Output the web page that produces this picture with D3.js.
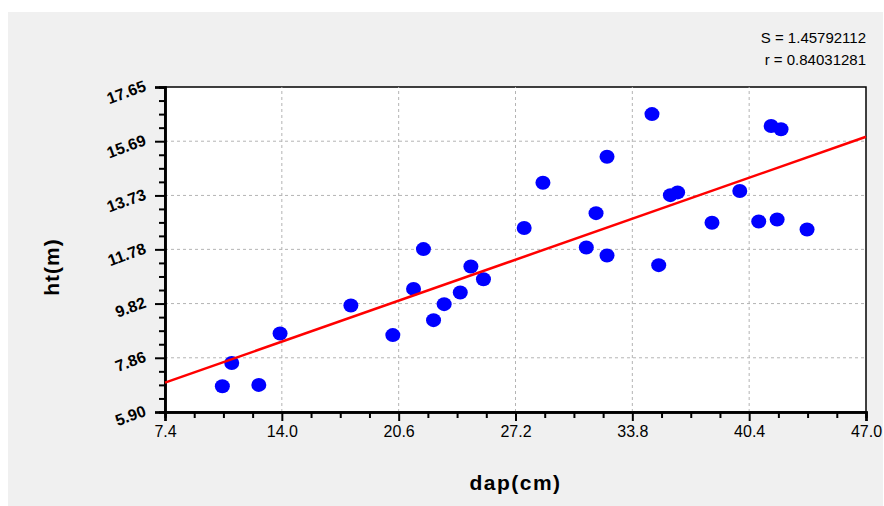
<!DOCTYPE html>
<html>
<head>
<meta charset="utf-8">
<script src="https://cdn.jsdelivr.net/npm/d3@7"></script>
<style>
  body { margin: 0; background: #fff; }
  svg { display: block; font-family: "Liberation Sans", Arial, sans-serif; }
</style>
</head>
<body>
<div id="chart"></div>
<script>
// data
const dap = [10.64, 11.17, 12.70, 13.90, 17.90, 20.27, 21.44, 22.00, 22.57, 23.17,
             24.08, 24.68, 25.39, 27.69, 28.75, 31.20, 31.75, 32.37, 32.37, 34.91,
             35.29, 35.95, 36.36, 38.30, 39.87, 40.94, 41.64, 41.98, 42.20, 43.67];
const ht = [6.83, 7.67, 6.88, 8.74, 9.75, 8.68, 10.35, 11.79, 9.22, 9.80,
            10.22, 11.16, 10.70, 12.55, 14.19, 11.85, 13.09, 15.13, 11.56, 16.67,
            11.21, 13.74, 13.84, 12.74, 13.89, 12.79, 16.24, 12.86, 16.12, 12.50];
const xTickLabels = ["7.4", "14.0", "20.6", "27.2", "33.8", "40.4", "47.0"];
const yTickLabels = ["5.90", "7.86", "9.82", "11.78", "13.73", "15.69", "17.65"];
const fitIntercept = 5.30;
const fitSlope = 0.2245;
const statLines = ["S = 1.45792112", "r = 0.84031281"];
const xTitle = "dap(cm)";
const yTitle = "ht(m)";

const width = 884, height = 506;
const margin = { top: 87, right: 18, bottom: 94, left: 165 };

const svg = d3.select("#chart").append("svg")
  .attr("width", width)
  .attr("height", height);

// grey panel behind everything
svg.append("rect")
  .attr("x", 8).attr("y", 12)
  .attr("width", width - 9).attr("height", height - 12)
  .attr("fill", "#f0f0f0");

const xTicks = xTickLabels.map(Number);
const yTicks = yTickLabels.map(Number);

const x = d3.scaleLinear()
  .domain([xTicks[0], xTicks[xTicks.length - 1]])
  .range([margin.left, width - margin.right]);
const y = d3.scaleLinear()
  .domain([yTicks[0], yTicks[yTicks.length - 1]])
  .range([height - margin.bottom, margin.top]);

// minor ticks: 3 between each pair of majors
const minor = (t) => d3.merge(t.slice(0, -1).map((v, i) =>
  [1, 2, 3].map(k => v + (t[i + 1] - v) * k / 4)));

// plot area
svg.append("rect")
  .attr("x", x.range()[0]).attr("y", y.range()[1])
  .attr("width", x.range()[1] - x.range()[0])
  .attr("height", y.range()[0] - y.range()[1])
  .attr("fill", "#fff")
  .attr("stroke", "#000")
  .attr("stroke-width", 1.5);

// grid
const grid = svg.append("g")
  .attr("stroke", "#b4b4b4")
  .attr("stroke-dasharray", "3,3");
grid.selectAll(".vg").data(xTicks.slice(1, -1)).enter().append("line")
  .attr("x1", d => x(d)).attr("x2", d => x(d))
  .attr("y1", y.range()[0]).attr("y2", y.range()[1]);
grid.selectAll(".hg").data(yTicks.slice(1, -1)).enter().append("line")
  .attr("y1", d => y(d)).attr("y2", d => y(d))
  .attr("x1", x.range()[0]).attr("x2", x.range()[1]);

// x axis
const xAxis = svg.append("g")
  .attr("transform", "translate(0," + y.range()[0] + ")");
xAxis.call(d3.axisBottom(x).tickValues(minor(xTicks)).tickSize(6).tickFormat(""));
xAxis.append("g").call(d3.axisBottom(x).tickValues(xTicks).tickSize(9)
  .tickFormat((d, i) => xTickLabels[i]));
xAxis.selectAll("path.domain").attr("stroke-width", 2.5);
xAxis.selectAll("line").attr("stroke-width", 2);
xAxis.selectAll("text")
  .attr("font-size", 16)
  .attr("fill", "#000")
  .attr("y", 14);

// y axis
const yAxis = svg.append("g")
  .attr("transform", "translate(" + x.range()[0] + ",0)");
yAxis.call(d3.axisLeft(y).tickValues(minor(yTicks)).tickSize(6).tickFormat(""));
yAxis.append("g").call(d3.axisLeft(y).tickValues(yTicks).tickSize(10)
  .tickFormat((d, i) => yTickLabels[i]));
yAxis.selectAll("path.domain").attr("stroke-width", 2.5);
yAxis.selectAll("line").attr("stroke-width", 2);
yAxis.selectAll("text")
  .attr("font-size", 16)
  .attr("font-weight", "bold")
  .attr("fill", "#000")
  .attr("x", null).attr("dy", null)
  .attr("text-anchor", "end")
  .attr("transform", "translate(-18,3) rotate(-20)");

// points
svg.append("g").selectAll("ellipse")
  .data(dap.map((d, i) => ({ dap: d, ht: ht[i] })))
  .enter().append("ellipse")
  .attr("cx", d => x(d.dap))
  .attr("cy", d => y(d.ht))
  .attr("rx", 7.5).attr("ry", 7)
  .attr("fill", "#0000ff");

// fitted line
const line = d3.line()
  .x(d => x(d))
  .y(d => y(fitIntercept + fitSlope * d));
svg.append("path")
  .datum(x.domain())
  .attr("d", line)
  .attr("fill", "none")
  .attr("stroke", "#ff0000")
  .attr("stroke-width", 2.5);

// stats
svg.append("g").selectAll("text")
  .data(statLines)
  .enter().append("text")
  .attr("x", 866)
  .attr("y", (d, i) => 43 + i * 22)
  .attr("text-anchor", "end")
  .attr("font-size", 15)
  .attr("fill", "#000")
  .text(d => d);

// axis titles
svg.append("text")
  .attr("x", (x.range()[0] + x.range()[1]) / 2)
  .attr("y", 490)
  .attr("text-anchor", "middle")
  .attr("font-size", 21)
  .attr("font-weight", "bold")
  .attr("letter-spacing", 1.5)
  .text(xTitle);

svg.append("text")
  .attr("transform", "translate(59,267) rotate(-90)")
  .attr("text-anchor", "middle")
  .attr("font-size", 21)
  .attr("font-weight", "bold")
  .attr("letter-spacing", 1)
  .text(yTitle);
</script>
</body>
</html>
